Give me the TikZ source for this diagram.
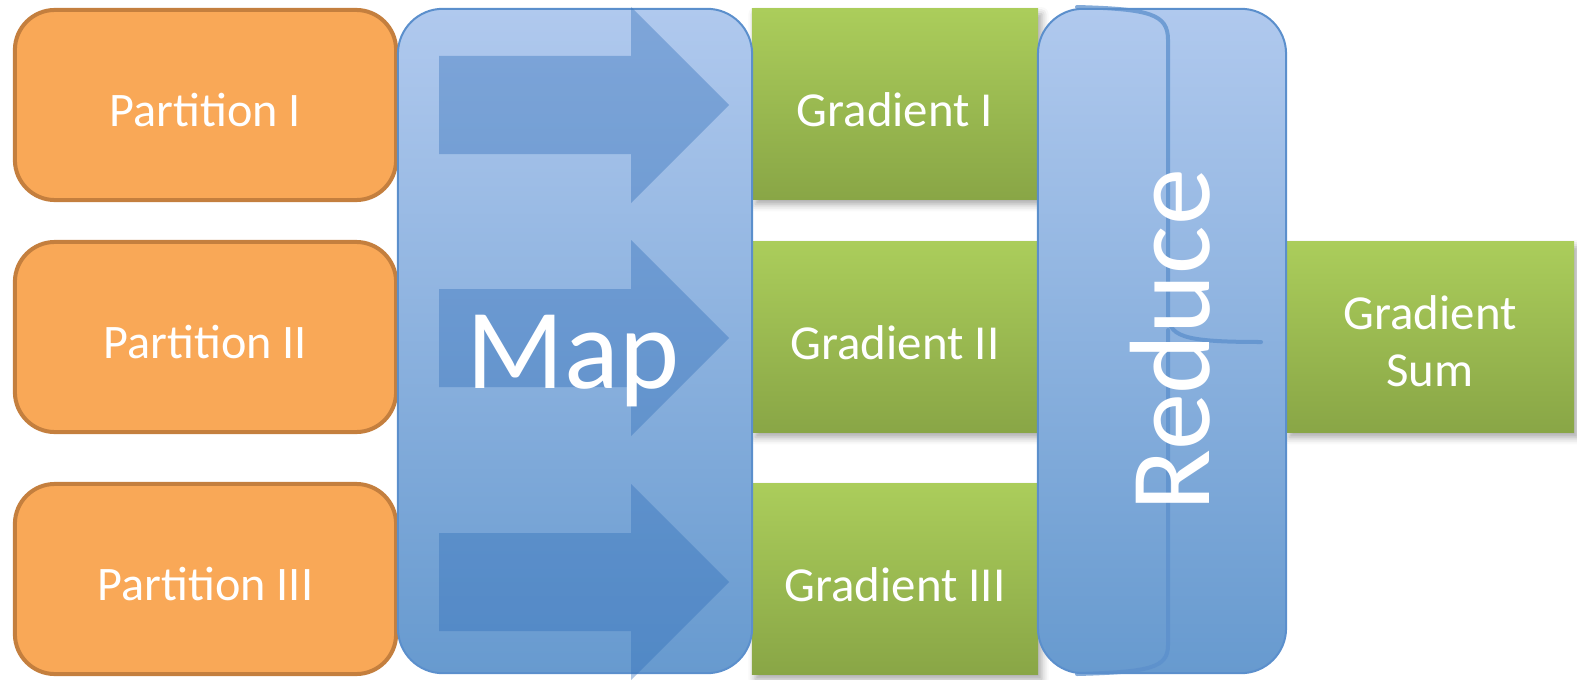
\documentclass[tikz,border=0pt]{standalone}
\usepackage{fontspec}
\setmainfont{Carlito}
\usetikzlibrary{positioning,shadows.blur}

\definecolor{partfill}{HTML}{F9A857}
\definecolor{partline}{HTML}{C47F3E}
\definecolor{gradtop}{HTML}{ABCD5B}
\definecolor{gradbot}{HTML}{89A646}
\definecolor{bluetop}{HTML}{B0C9EE}
\definecolor{bluebot}{HTML}{679ACF}
\definecolor{blueline}{HTML}{5B8FCC}
\definecolor{arrowblue}{HTML}{2F6DB8}

\tikzset{
  part/.style={draw=partline, fill=partfill, line width=0.4mm, rounded corners=0.4cm,
    minimum width=3.81cm, minimum height=1.9cm, inner sep=0pt, text=white,
    text height=4.2mm, text depth=0pt, font=\fontsize{13.7}{16}\selectfont},
  grad/.style={top color=gradtop, bottom color=gradbot, minimum width=2.86cm,
    minimum height=1.9cm, inner sep=0pt, text=white, align=center,
    font=\fontsize{13.9}{16.2}\selectfont,
    blur shadow={shadow xshift=1pt, shadow yshift=-1.5pt, shadow blur radius=2pt, shadow opacity=35}},
  gradone/.style={grad, text height=4.4mm, text depth=0pt},
  stage/.style={draw=blueline, line width=0.2mm, top color=bluetop, bottom color=bluebot,
    rounded corners=0.45cm, minimum height=6.64cm, inner sep=0pt},
  bigtext/.style={text=white, font=\fontsize{32.5}{36}\selectfont, inner sep=0pt},
  maparrow/.style={fill=arrowblue, fill opacity=0.38},
  brace/.style={draw=blueline, line width=0.4mm, draw opacity=0.75, line cap=round}
}

\begin{document}
\begin{tikzpicture}[x=0.01cm, y=-0.01cm]
	\useasboundingbox (0,0) rectangle (1577,679);

	\node (part1) [part] at (205.5,105) {Partition I};
	\node (part2) [part] at (205.5,337) {Partition II};
	\node (part3) [part] at (205.5,579) {Partition III};

	\node (grad1) [gradone] at (895,104) {Gradient I};
	\node (grad2) [gradone] at (895,337) {Gradient II};
	\node (grad3) [gradone] at (895,579) {Gradient III};
	\node (sum) [grad, minimum width=2.88cm, text height=1cm, text depth=0.02cm] at (1430,337) {Gradient\\Sum};

	\node (map) [stage, minimum width=3.54cm] at (575,341) {};
	\foreach \y in {105,338,582}
		\fill [maparrow] (439,\y-49) -- (631,\y-49) -- (631,\y-98) -- (729,\y)
			-- (631,\y+98) -- (631,\y+49) -- (439,\y+49) -- cycle;
	\node (maptext) [bigtext] at (573,361) {Map};

	\node (reduce) [stage, minimum width=2.48cm] at (1162,341) {};
	\draw [brace] (1077,7) .. controls (1150,9) and (1168,14) .. (1168,40)
		-- (1168,312) .. controls (1168,336) and (1180,342) .. (1261,342);
	\draw [brace] (1168,330) -- (1168,645) .. controls (1168,668) and (1150,672) .. (1077,674);
	\node (reducetext) [bigtext, rotate=90] at (1170,340) {Reduce};
\end{tikzpicture}
\end{document}
